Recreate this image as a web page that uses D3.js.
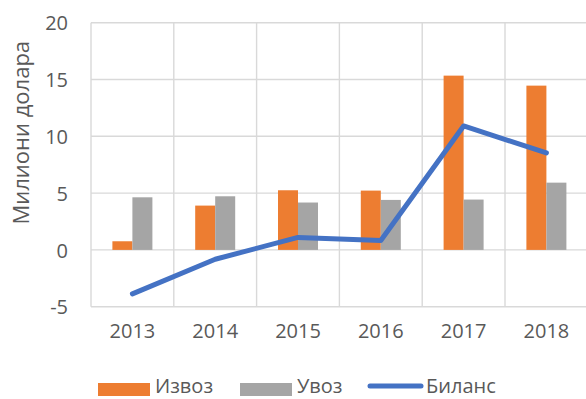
<!DOCTYPE html>
<html>
<head>
<meta charset="utf-8">
<script src="https://cdn.jsdelivr.net/npm/d3@7"></script>
<style>
  html, body { margin: 0; padding: 0; background: #ffffff; }
  svg { display: block; font-family: "Open Sans", "Noto Sans", sans-serif; }
</style>
</head>
<body>
<svg id="chart" width="586" height="399"></svg>
<script>
// Trade figures, millions of dollars
const years = ["2013", "2014", "2015", "2016", "2017", "2018"];
const exports = [0.76, 3.9, 5.25, 5.22, 15.34, 14.46];
const imports = [4.63, 4.72, 4.17, 4.4, 4.43, 5.92];
const balance = [-3.87, -0.82, 1.1, 0.82, 10.91, 8.54];
const yTicks = [-5, 0, 5, 10, 15, 20];
const seriesNames = ["Извоз", "Увоз", "Биланс"];
const axisTitle = "Милиони долара";

const colors = { "Извоз": "#ED7D31", "Увоз": "#A5A5A5", "Биланс": "#4472C4" };
const textColor = "#595959";
const gridColor = "#D9D9D9";

const svg = d3.select("#chart");

const plot = { left: 91, right: 587.8, top: 22.7, bottom: 306.7 };

const x = d3.scaleBand().domain(years).range([plot.left, plot.right]).padding(0);
const y = d3.scaleLinear().domain([-5, 20]).range([plot.bottom, plot.top]);

// two bars per year, grouped around the category centre
const barW = 20;
const xSub = d3.scaleBand()
  .domain(["Извоз", "Увоз"])
  .range([x.bandwidth() / 2 - barW, x.bandwidth() / 2 + barW])
  .padding(0);

// horizontal grid
svg.append("g")
  .selectAll("line")
  .data(yTicks)
  .join("line")
  .attr("x1", plot.left).attr("x2", plot.right)
  .attr("y1", d => y(d)).attr("y2", d => y(d))
  .attr("stroke", gridColor).attr("stroke-width", 1.4);

// vertical grid at category boundaries
const bounds = years.map(d => x(d)).concat([plot.right]);
svg.append("g")
  .selectAll("line")
  .data(bounds)
  .join("line")
  .attr("x1", d => d).attr("x2", d => d)
  .attr("y1", plot.top).attr("y2", plot.bottom)
  .attr("stroke", gridColor).attr("stroke-width", 1.4);

// bars
const rows = years.map((yr, i) => ({ year: yr, "Извоз": exports[i], "Увоз": imports[i] }));
const groups = svg.append("g")
  .selectAll("g")
  .data(rows)
  .join("g")
  .attr("transform", d => `translate(${x(d.year)},0)`);

groups.selectAll("rect")
  .data(d => ["Извоз", "Увоз"].map(k => ({ key: k, value: d[k] })))
  .join("rect")
  .attr("x", d => xSub(d.key))
  .attr("width", xSub.bandwidth())
  .attr("y", d => y(Math.max(0, d.value)))
  .attr("height", d => Math.abs(y(d.value) - y(0)))
  .attr("fill", d => colors[d.key]);

// balance line
const line = d3.line()
  .x((d, i) => x(years[i]) + x.bandwidth() / 2)
  .y(d => y(d));

svg.append("path")
  .datum(balance)
  .attr("d", line)
  .attr("fill", "none")
  .attr("stroke", colors["Биланс"])
  .attr("stroke-width", 5)
  .attr("stroke-linejoin", "round")
  .attr("stroke-linecap", "round");

// y axis labels
const yAxis = d3.axisLeft(y).tickValues(yTicks).tickFormat(d => String(d)).tickSize(0).tickPadding(0);
const gy = svg.append("g").attr("transform", "translate(68,0)").call(yAxis);
gy.select(".domain").remove();
gy.selectAll("text")
  .attr("fill", textColor)
  .attr("font-size", 20)
  .attr("font-family", "Open Sans")
  .attr("dy", "0.36em");

// x axis labels
const xAxis = d3.axisBottom(x).tickSize(0).tickPadding(0);
const gx = svg.append("g").attr("transform", "translate(0,324)").call(xAxis);
gx.select(".domain").remove();
gx.selectAll("text")
  .attr("fill", textColor)
  .attr("font-size", 20)
  .attr("font-family", "Open Sans")
  .attr("dy", "0.71em");

// axis title
svg.append("text")
  .attr("transform", `translate(29,${(plot.top + plot.bottom) / 2 - 32}) rotate(-90)`)
  .attr("text-anchor", "middle")
  .attr("fill", textColor)
  .attr("font-size", 22)
  .text(axisTitle);

// legend
const legend = svg.append("g");
const legendItems = [
  { name: seriesNames[0], type: "rect", x0: 98 },
  { name: seriesNames[1], type: "rect", x0: 240 },
  { name: seriesNames[2], type: "line", x0: 368 }
];
const ly = 389;
legendItems.forEach(it => {
  if (it.type === "rect") {
    legend.append("rect")
      .attr("x", it.x0).attr("y", ly - 6)
      .attr("width", 52).attr("height", 13)
      .attr("fill", colors[it.name]);
  } else {
    legend.append("line")
      .attr("x1", it.x0 + 2).attr("x2", it.x0 + 53)
      .attr("y1", ly - 3).attr("y2", ly - 3)
      .attr("stroke", colors[it.name])
      .attr("stroke-width", 5)
      .attr("stroke-linecap", "round");
  }
  legend.append("text")
    .attr("x", it.x0 + (it.type === "rect" ? 57 : 58))
    .attr("y", ly - 3)
    .attr("dy", "0.36em")
    .attr("fill", textColor)
    .attr("font-size", 20)
    .text(it.name);
});
</script>
</body>
</html>
